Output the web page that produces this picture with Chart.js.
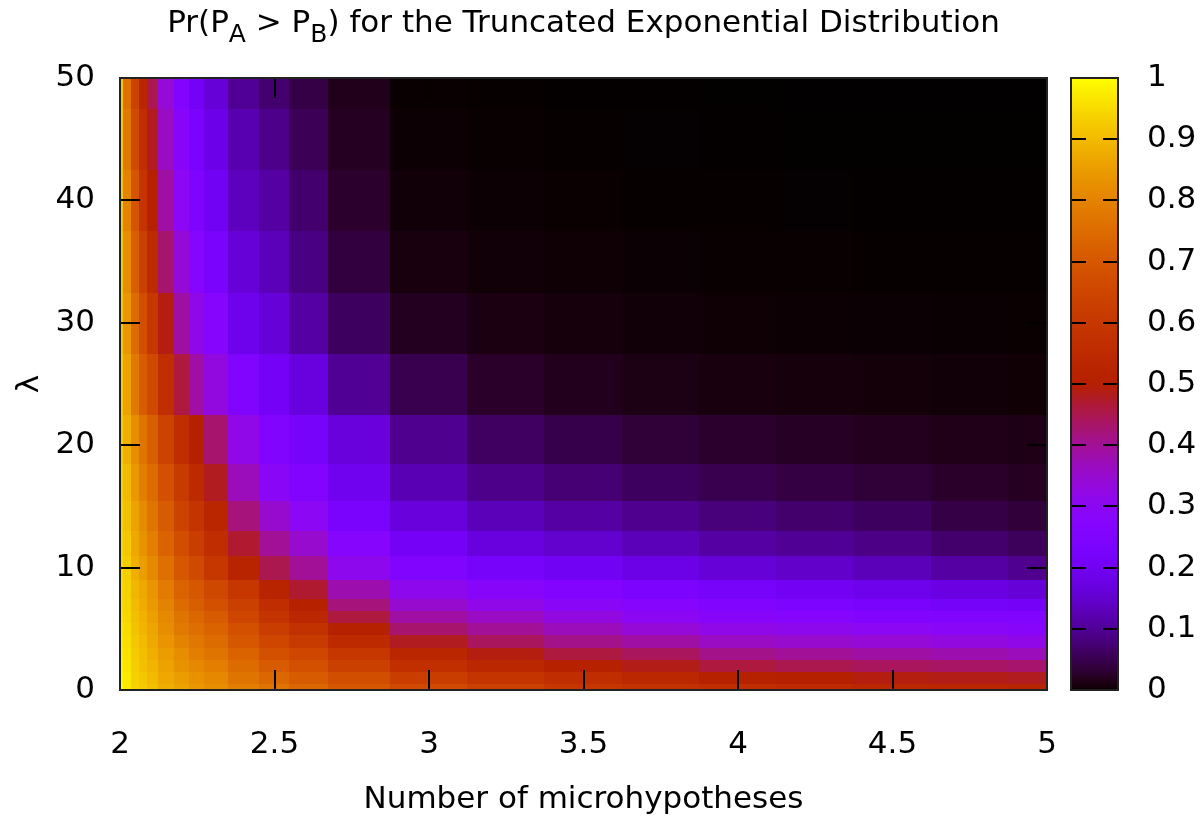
<!DOCTYPE html>
<html>
<head>
<meta charset="utf-8">
<title>Truncated Exponential Distribution</title>
<script src="https://cdn.jsdelivr.net/npm/chart.js@4.4.1/dist/chart.umd.min.js"></script>
<style>
  html, body { margin: 0; padding: 0; background: #fff; }
  #wrap { width: 1204px; height: 820px; }
</style>
</head>
<body>
<div id="wrap"><canvas id="heat" width="1204" height="820"></canvas></div>
<script>
// grid of the map: number of microhypotheses (columns) and lambda (rows)
const nValues = [2, 2.025, 2.05, 2.075, 2.1, 2.15, 2.2, 2.25, 2.3, 2.4, 2.5, 2.6, 2.75, 3, 3.25, 3.5, 3.75, 4, 4.25, 4.5, 4.75, 5];
const lambdaValues = [0, 1, 2, 3, 4, 5, 6, 7, 8, 10, 12, 14, 17, 20, 25, 30, 35, 40, 45, 50];

// Pr(PA > PB), one array per lambda row
const probL0  = [1.0, 0.97, 0.94, 0.925, 0.91, 0.88, 0.86, 0.84, 0.82, 0.79, 0.77, 0.74, 0.70, 0.66, 0.63, 0.60, 0.58, 0.56, 0.55, 0.54, 0.53, 0.52];
const probL1  = [0.99, 0.97, 0.935, 0.92, 0.90, 0.87, 0.85, 0.83, 0.81, 0.77, 0.74, 0.71, 0.67, 0.62, 0.59, 0.56, 0.535, 0.51, 0.50, 0.49, 0.485, 0.48];
const probL2  = [0.985, 0.965, 0.93, 0.91, 0.89, 0.86, 0.83, 0.81, 0.79, 0.75, 0.71, 0.68, 0.63, 0.57, 0.54, 0.51, 0.485, 0.46, 0.45, 0.44, 0.435, 0.43];
const probL3  = [0.98, 0.96, 0.925, 0.905, 0.88, 0.85, 0.82, 0.79, 0.77, 0.73, 0.68, 0.65, 0.60, 0.53, 0.49, 0.46, 0.44, 0.41, 0.40, 0.39, 0.38, 0.37];
const probL4  = [0.975, 0.955, 0.92, 0.90, 0.87, 0.835, 0.80, 0.775, 0.75, 0.70, 0.65, 0.61, 0.55, 0.48, 0.44, 0.41, 0.39, 0.36, 0.35, 0.34, 0.33, 0.32];
const probL5  = [0.97, 0.95, 0.915, 0.89, 0.865, 0.82, 0.78, 0.755, 0.73, 0.68, 0.62, 0.58, 0.51, 0.43, 0.40, 0.37, 0.34, 0.32, 0.31, 0.30, 0.29, 0.28];
const probL6  = [0.965, 0.945, 0.91, 0.885, 0.855, 0.81, 0.77, 0.74, 0.71, 0.65, 0.59, 0.54, 0.46, 0.39, 0.36, 0.33, 0.30, 0.28, 0.27, 0.26, 0.255, 0.25];
const probL7  = [0.96, 0.94, 0.90, 0.875, 0.845, 0.80, 0.75, 0.72, 0.68, 0.63, 0.56, 0.51, 0.42, 0.35, 0.32, 0.29, 0.27, 0.25, 0.24, 0.225, 0.215, 0.21];
const probL8  = [0.955, 0.935, 0.895, 0.87, 0.835, 0.785, 0.73, 0.70, 0.655, 0.60, 0.52, 0.47, 0.38, 0.31, 0.28, 0.26, 0.235, 0.22, 0.205, 0.19, 0.175, 0.16];
const probL10 = [0.95, 0.93, 0.88, 0.85, 0.81, 0.76, 0.70, 0.66, 0.60, 0.52, 0.45, 0.40, 0.31, 0.25, 0.22, 0.20, 0.18, 0.16, 0.145, 0.13, 0.11, 0.095];
const probL12 = [0.945, 0.92, 0.87, 0.83, 0.79, 0.73, 0.67, 0.62, 0.56, 0.47, 0.40, 0.35, 0.27, 0.21, 0.17, 0.15, 0.13, 0.11, 0.10, 0.088, 0.07, 0.058];
const probL14 = [0.94, 0.91, 0.86, 0.815, 0.77, 0.71, 0.64, 0.59, 0.53, 0.42, 0.35, 0.30, 0.23, 0.165, 0.13, 0.11, 0.095, 0.08, 0.07, 0.06, 0.045, 0.037];
const probL17 = [0.935, 0.90, 0.84, 0.79, 0.75, 0.68, 0.61, 0.55, 0.48, 0.37, 0.29, 0.26, 0.195, 0.125, 0.09, 0.075, 0.06, 0.05, 0.042, 0.035, 0.027, 0.021];
const probL20 = [0.93, 0.88, 0.82, 0.77, 0.72, 0.64, 0.56, 0.50, 0.43, 0.32, 0.255, 0.22, 0.165, 0.095, 0.062, 0.047, 0.035, 0.028, 0.023, 0.019, 0.015, 0.013];
const probL25 = [0.93, 0.86, 0.78, 0.71, 0.66, 0.56, 0.46, 0.39, 0.33, 0.25, 0.21, 0.17, 0.10, 0.05, 0.027, 0.018, 0.012, 0.009, 0.007, 0.0055, 0.0047, 0.004];
const probL30 = [0.925, 0.84, 0.75, 0.67, 0.60, 0.49, 0.39, 0.32, 0.27, 0.19, 0.16, 0.11, 0.06, 0.02, 0.011, 0.007, 0.0045, 0.0032, 0.0024, 0.0019, 0.0016, 0.0014];
const probL35 = [0.925, 0.82, 0.72, 0.63, 0.55, 0.43, 0.34, 0.27, 0.23, 0.16, 0.13, 0.085, 0.04, 0.009, 0.005, 0.003, 0.0018, 0.0012, 0.0009, 0.0007, 0.0006, 0.0005];
const probL40 = [0.92, 0.80, 0.69, 0.59, 0.51, 0.39, 0.30, 0.245, 0.20, 0.135, 0.11, 0.07, 0.028, 0.0045, 0.0025, 0.0014, 0.0008, 0.0005, 0.0004, 0.0003, 0.00025, 0.0002];
const probL45 = [0.92, 0.78, 0.66, 0.56, 0.48, 0.36, 0.28, 0.225, 0.18, 0.12, 0.09, 0.055, 0.022, 0.0022, 0.0012, 0.0007, 0.0004, 0.0002, 0.00015, 0.0001, 0.0001, 0.0001];
const probL50 = [0.92, 0.76, 0.64, 0.53, 0.45, 0.34, 0.26, 0.21, 0.16, 0.10, 0.072, 0.045, 0.017, 0.0012, 0.0006, 0.0003, 0.0002, 0.0001, 0.00007, 0.00005, 0.00005, 0.00005];

const probRows = [probL0, probL1, probL2, probL3, probL4, probL5, probL6, probL7, probL8, probL10,
  probL12, probL14, probL17, probL20, probL25, probL30, probL35, probL40, probL45, probL50];

// tick labels
const xTicks = [2, 2.5, 3, 3.5, 4, 4.5, 5];
const yTicks = [0, 10, 20, 30, 40, 50];
const cbTicks = [0, 0.1, 0.2, 0.3, 0.4, 0.5, 0.6, 0.7, 0.8, 0.9, 1];

const FONT = 'DejaVu Sans';
const FONT_SIZE = 31;
const TICK_LEN = 20;
Chart.defaults.font.family = FONT;
Chart.defaults.font.size = FONT_SIZE;
Chart.defaults.color = '#000';

// gnuplot default pm3d palette (rgbformulae 7,5,15)
function palette(v) {
  v = Math.min(1, Math.max(0, v));
  const r = Math.sqrt(v);
  const g = v * v * v;
  const b = Math.max(0, Math.sin(2 * Math.PI * v));
  return 'rgb(' + Math.round(r * 255) + ',' + Math.round(g * 255) + ',' + Math.round(b * 255) + ')';
}

// cell edges halfway between grid points, clamped to the first/last value
function edges(vals, i) {
  const lo = i === 0 ? vals[0] : (vals[i - 1] + vals[i]) / 2;
  const hi = i === vals.length - 1 ? vals[i] : (vals[i] + vals[i + 1]) / 2;
  return [lo, hi];
}

const heatmapPlugin = {
  id: 'heatmap',
  beforeDatasetsDraw(chart) {
    const {ctx, chartArea, scales: {x, y}} = chart;
    ctx.save();
    ctx.beginPath();
    ctx.rect(chartArea.left, chartArea.top, chartArea.width, chartArea.height);
    ctx.clip();
    lambdaValues.forEach((lam, j) => {
      const [y0, y1] = edges(lambdaValues, j);
      const pyBottom = Math.ceil(y.getPixelForValue(y0));
      const pyTop = Math.floor(y.getPixelForValue(y1));
      nValues.forEach((n, i) => {
        const [x0, x1] = edges(nValues, i);
        const pxLeft = Math.floor(x.getPixelForValue(x0));
        const pxRight = Math.ceil(x.getPixelForValue(x1));
        ctx.fillStyle = palette(probRows[j][i]);
        ctx.fillRect(pxLeft, pyTop, pxRight - pxLeft, pyBottom - pyTop);
      });
    });
    ctx.restore();
  }
};

// border, inward ticks (mirrored) and the colour box
const framePlugin = {
  id: 'frame',
  afterDatasetsDraw(chart) {
    const {ctx, chartArea: a, scales: {x, y, cb}} = chart;
    ctx.save();
    ctx.strokeStyle = '#000';
    ctx.lineWidth = 2;
    ctx.beginPath();
    xTicks.forEach(v => {
      const px = Math.round(x.getPixelForValue(v));
      ctx.moveTo(px, a.bottom); ctx.lineTo(px, a.bottom - TICK_LEN);
      ctx.moveTo(px, a.top); ctx.lineTo(px, a.top + TICK_LEN);
    });
    yTicks.forEach(v => {
      const py = Math.round(y.getPixelForValue(v));
      ctx.moveTo(a.left, py); ctx.lineTo(a.left + TICK_LEN, py);
      ctx.moveTo(a.right, py); ctx.lineTo(a.right - TICK_LEN, py);
    });
    ctx.stroke();
    ctx.strokeStyle = '#222';
    ctx.strokeRect(a.left, a.top, a.width, a.height);

    // colour box
    const left = a.right + 24, w = 47;
    const top = cb.getPixelForValue(1), bottom = cb.getPixelForValue(0);
    for (let py = Math.floor(top); py < Math.ceil(bottom); py++) {
      ctx.fillStyle = palette(cb.getValueForPixel(py + 0.5));
      ctx.fillRect(left, py, w, 1);
    }
    ctx.strokeStyle = '#000';
    ctx.beginPath();
    cbTicks.slice(1, -1).forEach(v => {
      const py = Math.round(cb.getPixelForValue(v));
      ctx.moveTo(left, py); ctx.lineTo(left + 15, py);
      ctx.moveTo(left + w, py); ctx.lineTo(left + w - 15, py);
    });
    ctx.stroke();
    ctx.strokeStyle = '#222';
    ctx.strokeRect(left, top, w, bottom - top);
    ctx.restore();
  }
};

// title with subscripts
const titleParts = [
  {text: 'Pr(P', sub: false},
  {text: 'A', sub: true},
  {text: ' > P', sub: false},
  {text: 'B', sub: true},
  {text: ') for the Truncated Exponential Distribution', sub: false}
];
const titlePlugin = {
  id: 'subTitle',
  afterDraw(chart) {
    const {ctx, chartArea: a} = chart;
    const big = FONT_SIZE + 'px "' + FONT + '"';
    const small = Math.round(FONT_SIZE * 0.8) + 'px "' + FONT + '"';
    ctx.save();
    ctx.fillStyle = '#000';
    ctx.textBaseline = 'alphabetic';
    let total = 0;
    titleParts.forEach(p => { ctx.font = p.sub ? small : big; total += ctx.measureText(p.text).width; });
    let px = (a.left + a.right) / 2 - total / 2;
    titleParts.forEach(p => {
      ctx.font = p.sub ? small : big;
      ctx.fillText(p.text, px, p.sub ? 42 : 32);
      px += ctx.measureText(p.text).width;
    });
    ctx.restore();
  }
};

new Chart(document.getElementById('heat'), {
  type: 'scatter',
  data: { datasets: [] },
  options: {
    responsive: false,
    animation: false,
    events: [],
    layout: { padding: { top: 78, left: 0, right: 0, bottom: 0 } },
    plugins: { legend: { display: false }, tooltip: { enabled: false } },
    scales: {
      x: {
        type: 'linear', min: 2, max: 5,
        afterBuildTicks: s => { s.ticks = xTicks.map(v => ({ value: v })); },
        afterFit: s => { s.height = 130; },
        grid: { display: false, drawTicks: false },
        border: { display: false },
        ticks: { padding: 36, maxRotation: 0, callback: v => String(v) },
        title: { display: true, text: 'Number of microhypotheses', padding: { top: 0, bottom: 1 } }
      },
      y: {
        type: 'linear', min: 0, max: 50,
        afterBuildTicks: s => { s.ticks = yTicks.map(v => ({ value: v })); },
        afterFit: s => { s.width = 120; s.paddingTop = 0; s.paddingBottom = 0; },
        grid: { display: false, drawTicks: false },
        border: { display: false },
        ticks: { padding: 25, callback: v => String(v) },
        title: { display: true, text: 'λ', padding: { top: 11, bottom: 0 } }
      },
      cb: {
        type: 'linear', axis: 'y', position: 'right', min: 0, max: 1,
        afterBuildTicks: s => { s.ticks = cbTicks.map(v => ({ value: v })); },
        afterFit: s => { s.width = 157; s.paddingTop = 0; s.paddingBottom = 0; },
        grid: { display: false, drawTicks: false },
        border: { display: false },
        ticks: { padding: 100, callback: v => String(v) }
      }
    }
  },
  plugins: [heatmapPlugin, framePlugin, titlePlugin]
});
</script>
</body>
</html>
